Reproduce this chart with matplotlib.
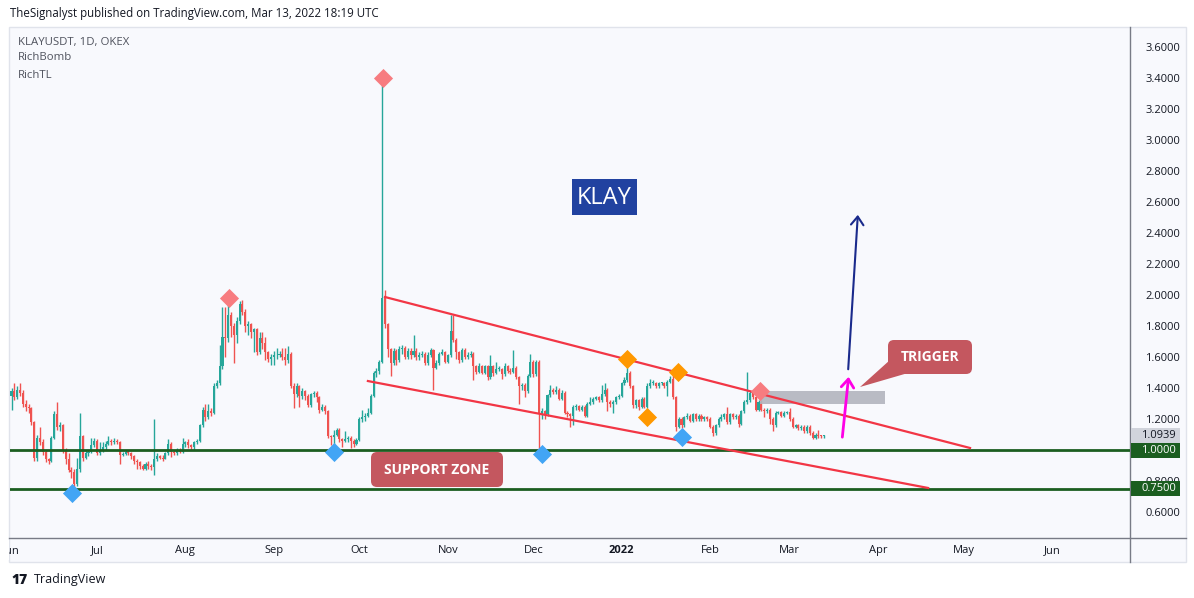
import matplotlib
matplotlib.use("Agg")
import matplotlib.pyplot as plt
from matplotlib.patches import FancyBboxPatch, Rectangle, Polygon
import numpy as np

# KLAYUSDT daily, 1 Jun 2021 -> 13 Mar 2022 (day index 0 = 1 Jun 2021)
first_open = 1.35
closes = [
    1.38, 1.34, 1.39, 1.37, 1.30, 1.28, 1.27, 1.18, 0.95, 1.08,
    1.05, 0.99, 0.94, 0.93, 1.08, 1.23, 1.15, 1.16, 1.00, 0.94,
    0.87, 0.86, 0.78, 0.88, 1.09, 0.95, 0.98, 0.99, 1.03, 1.06,
    0.98, 1.00, 1.02, 1.04, 1.06, 1.05, 1.055, 1.05, 0.97, 0.975,
    0.99, 0.98, 0.96, 0.93, 0.92, 0.90, 0.88, 0.91, 0.90, 0.89,
    0.94, 0.96, 0.95, 0.945, 0.98, 1.04, 0.99, 0.98, 1.00, 0.99,
    1.04, 1.05, 1.03, 1.02, 1.05, 1.06, 1.16, 1.26, 1.21, 1.25,
    1.24, 1.41, 1.43, 1.54, 1.73, 1.72, 1.87, 1.80, 1.74, 1.83,
    1.94, 1.89, 1.80, 1.81, 1.76, 1.78, 1.63, 1.72, 1.69, 1.63,
    1.59, 1.60, 1.61, 1.615, 1.62, 1.60, 1.58, 1.62, 1.41, 1.36,
    1.41, 1.35, 1.38, 1.35, 1.29, 1.36, 1.37, 1.34, 1.26, 1.28,
    1.25, 1.09, 1.085, 1.10, 1.13, 1.07, 1.06, 1.07, 1.08, 1.06,
    1.04, 1.065, 1.20, 1.21, 1.22, 1.24, 1.35, 1.50, 1.51, 1.57,
    1.98, 1.81, 1.65, 1.56, 1.64, 1.58, 1.65, 1.66, 1.60, 1.64,
    1.61, 1.64, 1.60, 1.61, 1.62, 1.56, 1.61, 1.645, 1.53, 1.56,
    1.62, 1.63, 1.57, 1.61, 1.77, 1.71, 1.63, 1.58, 1.645, 1.60,
    1.61, 1.62, 1.54, 1.505, 1.54, 1.50, 1.54, 1.47, 1.54, 1.50,
    1.52, 1.525, 1.49, 1.54, 1.51, 1.505, 1.53, 1.47, 1.41, 1.42,
    1.38, 1.48, 1.57, 1.49, 1.57, 1.23, 1.25, 1.23, 1.355, 1.39,
    1.375, 1.39, 1.33, 1.37, 1.24, 1.23, 1.22, 1.28, 1.285, 1.26,
    1.28, 1.22, 1.30, 1.31, 1.33, 1.34, 1.32, 1.36, 1.39, 1.31,
    1.30, 1.31, 1.34, 1.35, 1.43, 1.45, 1.50, 1.41, 1.29, 1.32,
    1.28, 1.33, 1.28, 1.41, 1.43, 1.435, 1.41, 1.43, 1.435, 1.41,
    1.44, 1.46, 1.34, 1.15, 1.20, 1.16, 1.21, 1.22, 1.19, 1.23,
    1.20, 1.22, 1.20, 1.21, 1.20, 1.15, 1.11, 1.16, 1.20, 1.21,
    1.23, 1.18, 1.23, 1.21, 1.22, 1.17, 1.25, 1.31, 1.32, 1.37,
    1.34, 1.26, 1.31, 1.26, 1.25, 1.26, 1.20, 1.16, 1.24, 1.245,
    1.22, 1.24, 1.245, 1.20, 1.15, 1.16, 1.14, 1.15, 1.12, 1.15,
    1.11, 1.08, 1.10, 1.09, 1.088, 1.094,
]
highs = [
    1.40, 1.43, 1.41, 1.43, 1.39, 1.32, 1.30, 1.28, 1.19, 1.10,
    1.15, 1.07, 1.00, 0.95, 1.09, 1.25, 1.31, 1.18, 1.17, 1.01,
    0.98, 0.89, 0.88, 0.95, 1.24, 1.10, 1.00, 1.00, 1.08, 1.08,
    1.07, 1.05, 1.05, 1.06, 1.09, 1.07, 1.08, 1.07, 1.06, 0.99,
    1.00, 1.00, 0.99, 0.97, 0.94, 0.93, 0.91, 0.92, 0.93, 0.91,
    1.20, 0.98, 0.97, 0.97, 0.99, 1.07, 1.05, 1.00, 1.01, 1.01,
    1.08, 1.06, 1.07, 1.04, 1.06, 1.07, 1.17, 1.28, 1.30, 1.30,
    1.27, 1.43, 1.45, 1.68, 1.92, 1.92, 1.97, 1.89, 1.82, 1.86,
    1.96, 1.97, 1.91, 1.83, 1.82, 1.79, 1.79, 1.76, 1.76, 1.73,
    1.64, 1.62, 1.64, 1.66, 1.64, 1.66, 1.66, 1.67, 1.63, 1.43,
    1.43, 1.42, 1.40, 1.39, 1.36, 1.37, 1.38, 1.38, 1.35, 1.30,
    1.29, 1.26, 1.10, 1.13, 1.14, 1.14, 1.08, 1.12, 1.09, 1.09,
    1.07, 1.08, 1.21, 1.26, 1.24, 1.27, 1.36, 1.51, 1.53, 1.58,
    3.40, 2.03, 1.82, 1.66, 1.66, 1.65, 1.67, 1.68, 1.67, 1.66,
    1.66, 1.74, 1.66, 1.63, 1.64, 1.63, 1.63, 1.66, 1.65, 1.58,
    1.63, 1.65, 1.64, 1.62, 1.87, 1.87, 1.72, 1.64, 1.66, 1.66,
    1.63, 1.64, 1.63, 1.55, 1.56, 1.55, 1.55, 1.55, 1.61, 1.55,
    1.57, 1.54, 1.53, 1.56, 1.55, 1.53, 1.645, 1.54, 1.48, 1.43,
    1.43, 1.49, 1.62, 1.58, 1.58, 1.58, 1.27, 1.26, 1.36, 1.42,
    1.40, 1.41, 1.40, 1.39, 1.38, 1.25, 1.24, 1.29, 1.30, 1.29,
    1.29, 1.29, 1.31, 1.34, 1.34, 1.35, 1.35, 1.42, 1.43, 1.40,
    1.32, 1.32, 1.35, 1.36, 1.44, 1.47, 1.55, 1.51, 1.42, 1.33,
    1.33, 1.34, 1.34, 1.43, 1.46, 1.45, 1.44, 1.44, 1.44, 1.44,
    1.45, 1.48, 1.505, 1.35, 1.21, 1.21, 1.22, 1.24, 1.23, 1.24,
    1.24, 1.23, 1.23, 1.22, 1.22, 1.21, 1.16, 1.17, 1.21, 1.23,
    1.24, 1.28, 1.24, 1.24, 1.23, 1.23, 1.26, 1.32, 1.505, 1.38,
    1.38, 1.35, 1.32, 1.32, 1.27, 1.27, 1.27, 1.21, 1.25, 1.25,
    1.25, 1.25, 1.25, 1.27, 1.21, 1.17, 1.17, 1.16, 1.16, 1.16,
    1.16, 1.12, 1.11, 1.13, 1.10, 1.10,
]
lows = [
    1.26, 1.32, 1.33, 1.35, 1.28, 1.25, 1.24, 1.16, 0.93, 0.93,
    1.03, 0.97, 0.92, 0.91, 0.92, 1.07, 1.13, 1.12, 0.98, 0.91,
    0.86, 0.82, 0.76, 0.77, 0.86, 0.93, 0.94, 0.96, 0.98, 1.02,
    0.97, 0.97, 0.99, 1.00, 1.03, 1.03, 1.04, 1.04, 0.91, 0.96,
    0.97, 0.97, 0.94, 0.91, 0.88, 0.88, 0.87, 0.87, 0.88, 0.87,
    0.84, 0.93, 0.94, 0.93, 0.94, 0.97, 0.955, 0.97, 0.97, 0.98,
    0.98, 1.02, 1.01, 1.00, 1.00, 1.04, 1.05, 1.15, 1.19, 1.20,
    1.22, 1.23, 1.40, 1.42, 1.52, 1.60, 1.70, 1.73, 1.56, 1.69,
    1.81, 1.87, 1.76, 1.74, 1.72, 1.63, 1.61, 1.62, 1.65, 1.58,
    1.57, 1.55, 1.55, 1.59, 1.60, 1.58, 1.55, 1.56, 1.40, 1.27,
    1.34, 1.28, 1.33, 1.32, 1.28, 1.28, 1.34, 1.31, 1.24, 1.25,
    1.23, 1.08, 1.03, 1.02, 1.09, 1.05, 1.02, 1.05, 1.05, 1.01,
    1.02, 1.03, 1.06, 1.18, 1.19, 1.21, 1.23, 1.34, 1.47, 1.49,
    1.56, 1.79, 1.60, 1.48, 1.55, 1.55, 1.57, 1.62, 1.59, 1.59,
    1.59, 1.60, 1.58, 1.58, 1.60, 1.55, 1.55, 1.60, 1.39, 1.52,
    1.55, 1.61, 1.56, 1.56, 1.60, 1.70, 1.59, 1.56, 1.57, 1.59,
    1.59, 1.60, 1.45, 1.49, 1.50, 1.49, 1.49, 1.45, 1.46, 1.48,
    1.49, 1.51, 1.46, 1.48, 1.50, 1.49, 1.50, 1.46, 1.30, 1.39,
    1.34, 1.37, 1.47, 1.47, 1.48, 0.98, 1.20, 1.20, 1.22, 1.34,
    1.36, 1.36, 1.32, 1.32, 1.23, 1.21, 1.15, 1.16, 1.26, 1.25,
    1.25, 1.21, 1.21, 1.29, 1.30, 1.32, 1.31, 1.31, 1.35, 1.25,
    1.28, 1.24, 1.30, 1.33, 1.34, 1.42, 1.44, 1.40, 1.27, 1.27,
    1.26, 1.27, 1.27, 1.27, 1.40, 1.42, 1.40, 1.40, 1.42, 1.40,
    1.35, 1.43, 1.33, 1.12, 1.14, 1.14, 1.15, 1.20, 1.18, 1.18,
    1.19, 1.19, 1.19, 1.19, 1.19, 1.14, 1.09, 1.10, 1.15, 1.19,
    1.20, 1.17, 1.17, 1.20, 1.20, 1.15, 1.16, 1.24, 1.30, 1.31,
    1.33, 1.25, 1.25, 1.25, 1.21, 1.24, 1.17, 1.12, 1.15, 1.23,
    1.21, 1.21, 1.23, 1.19, 1.14, 1.14, 1.13, 1.13, 1.11, 1.11,
    1.10, 1.07, 1.07, 1.08, 1.08, 1.08,
]

# RichBomb signals (day index, price)
bomb_top_x = [76.3, 130.3, 262.5]
bomb_top_y = [1.98, 3.40, 1.38]
bomb_bot_x = [21.2, 113.1, 186.1, 235.2]
bomb_bot_y = [0.72, 0.99, 0.974, 1.084]
bomb_mid_x = [215.9, 222.9, 233.8]
bomb_mid_y = [1.587, 1.213, 1.503]

# trend channel (RichTL), support levels, trigger zone, projected path
upper_tl_x = [131.0, 336.2]
upper_tl_y = [1.987, 1.013]
lower_tl_x = [125.0, 321.5]
lower_tl_y = [1.445, 0.755]
support_levels = [1.0, 0.75]
trigger_zone_x = [262.5, 306.4]
trigger_zone_y = [1.297, 1.381]
breakout_x = [291.3, 293.7]
breakout_y = [1.065, 1.49]
target_x = [293.4, 296.9]
target_y = [1.503, 2.535]

last_price = 1.0939
month_days = [0, 30, 61, 92, 122, 153, 183, 214, 245, 273, 304, 334, 365]
month_labels = ["Jun", "Jul", "Aug", "Sep", "Oct", "Nov", "Dec", "2022",
                "Feb", "Mar", "Apr", "May", "Jun"]
price_ticks = [0.6, 0.8, 1.0, 1.2, 1.4, 1.6, 1.8, 2.0, 2.2, 2.4, 2.6, 2.8,
               3.0, 3.2, 3.4, 3.6]

W, H = 1194, 598
fig = plt.figure(figsize=(W / 100, H / 100), dpi=100)
plt.rcParams["font.family"] = ["Open Sans", "DejaVu Sans"]


def px_rect(x0, y0, x1, y1):
    return [x0 / W, 1 - y1 / H, (x1 - x0) / W, (y1 - y0) / H]


# panel background
bg = fig.add_axes([0, 0, 1, 1])
bg.set_xlim(0, W)
bg.set_ylim(H, 0)
bg.axis("off")
bg.add_patch(Rectangle((9, 27), 1177, 535, facecolor="#f8f9fd",
                       edgecolor="#e0e3eb", lw=1))
bg.plot([9, 1186], [538, 538], color="#787b86", lw=1)
bg.plot([1130, 1130], [27, 562], color="#787b86", lw=1)

ax = fig.add_axes(px_rect(10, 28, 1130, 538))
ax.set_facecolor("none")
ax.set_xlim(-0.53, 392.3)
ax.set_ylim(0.4323, 3.7226)
for s in ax.spines.values():
    s.set_visible(False)

# candles
c = np.array(closes)
o = np.array([first_open] + closes[:-1])
hi = np.array(highs)
lo = np.array(lows)
x = np.arange(len(c))
col = np.where(c >= o, "#26a69a", "#ef5350")
ax.vlines(x, lo, hi, colors=col, lw=1, zorder=3)
ax.bar(x, np.maximum(np.abs(c - o), 0.006), bottom=np.minimum(o, c),
       width=0.72, color=col, lw=0, zorder=3)

# support lines
for lvl in support_levels:
    ax.axhline(lvl, color="#1b5e20", lw=2, zorder=4)

# channel
ax.plot(upper_tl_x, upper_tl_y, color="#f23645", lw=1.6, zorder=5)
ax.plot(lower_tl_x, lower_tl_y, color="#f23645", lw=1.6, zorder=5)

# trigger zone
ax.add_patch(Rectangle((trigger_zone_x[0], trigger_zone_y[0]),
                       trigger_zone_x[1] - trigger_zone_x[0],
                       trigger_zone_y[1] - trigger_zone_y[0],
                       facecolor="#b2b5be", edgecolor="none", alpha=0.9,
                       zorder=4))

# signals
ax.scatter(bomb_top_x, bomb_top_y, marker="D", s=95, color="#f77c80",
           zorder=6, lw=0)
ax.scatter(bomb_bot_x, bomb_bot_y, marker="D", s=95, color="#42a5f5",
           zorder=6, lw=0)
ax.scatter(bomb_mid_x, bomb_mid_y, marker="D", s=95, color="#ff9800",
           zorder=6, lw=0)

# projected arrows
ax.annotate("", xy=(breakout_x[1], breakout_y[1]),
            xytext=(breakout_x[0], breakout_y[0]),
            arrowprops=dict(arrowstyle="->,head_length=0.6,head_width=0.45",
                            color="#ff00e6", lw=2), zorder=7)
ax.annotate("", xy=(target_x[1], target_y[1]),
            xytext=(target_x[0], target_y[0]),
            arrowprops=dict(arrowstyle="->,head_length=0.6,head_width=0.45",
                            color="#1a2a8c", lw=1.5), zorder=7)

# axes ticks (the 1.0000 level is shown by its own label box)
ax.yaxis.tick_right()
ax.set_yticks(price_ticks)
ax.set_yticklabels(["" if t == 1.0 else "%.4f" % t for t in price_ticks])
ax.tick_params(axis="y", length=0, pad=11, labelsize=8, labelcolor="#131722")
ax.set_xticks(month_days)
ax.set_xticklabels(month_labels)
ax.tick_params(axis="x", length=0, pad=5, labelsize=8, labelcolor="#131722")
for t in ax.get_xticklabels():
    if t.get_text() == "2022":
        t.set_fontweight("bold")

# price labels on the right scale
ytr = ax.get_yaxis_transform()
box_w = 49 / 1120
box_h = 15 / 155
txt_x = 1.0 + 11 / 1120
labels = [(last_price, "#d1d4dc", "#131722")] + \
         [(lvl, "#1b5e20", "white") for lvl in support_levels]
for val, fc, tc in labels:
    ax.add_patch(Rectangle((1.001, val - box_h / 2), box_w, box_h,
                           transform=ytr, facecolor=fc, edgecolor="none",
                           clip_on=False, zorder=9))
    ax.text(txt_x, val, "%.4f" % val, transform=ytr, fontsize=8, color=tc,
            va="center", ha="left", zorder=10)

# overlay for labels and page text
top = fig.add_axes([0, 0, 1, 1])
top.set_xlim(0, W)
top.set_ylim(H, 0)
top.axis("off")
top.add_patch(Rectangle((0, 540), 9, 20, facecolor="white", edgecolor="none"))

top.text(10, 14, "TheSignalyst published on TradingView.com, Mar 13, 2022 18:19 UTC",
         fontsize=8.3, color="#131722", va="center", ha="left")
for yy, s in zip([42, 58, 75], ["KLAYUSDT, 1D, OKEX", "RichBomb", "RichTL"]):
    top.text(18, yy, s, fontsize=8.2, color="#50535e", va="center", ha="left")

top.add_patch(Rectangle((572, 179), 65, 36, facecolor="#2142a0",
                        edgecolor="none"))
top.text(604.5, 197.5, "KLAY", fontsize=17, color="white", ha="center",
         va="center")

top.add_patch(FancyBboxPatch((371, 452), 132, 35,
                             boxstyle="round,pad=0,rounding_size=6",
                             facecolor="#c4575f", edgecolor="none"))
top.text(437, 469.5, "SUPPORT ZONE", fontsize=10, color="white",
         fontweight="bold", ha="center", va="center")

top.add_patch(Polygon([(890, 360), (908, 373), (860, 387)], closed=True,
                      facecolor="#c4575f", edgecolor="none"))
top.add_patch(FancyBboxPatch((888, 340), 84, 34,
                             boxstyle="round,pad=0,rounding_size=6",
                             facecolor="#c4575f", edgecolor="none"))
top.text(930, 357, "TRIGGER", fontsize=10, color="white",
         fontweight="bold", ha="center", va="center")

top.text(11, 580, "17", fontsize=10, color="#131722", fontweight="heavy",
         ha="left", va="center")
top.text(34, 580, "TradingView", fontsize=9, color="#131722", ha="left",
         va="center")

fig.savefig("out.png", dpi=100, facecolor="white")
